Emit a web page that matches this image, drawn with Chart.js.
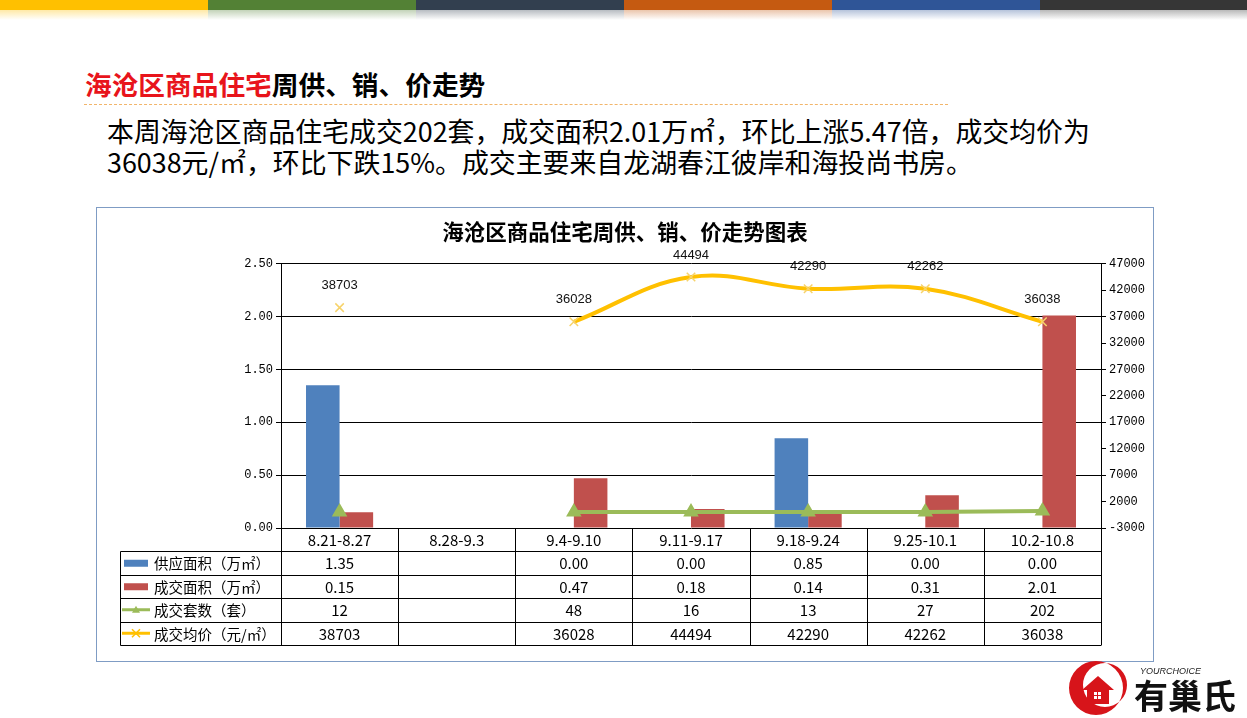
<!DOCTYPE html>
<html>
<head>
<meta charset="utf-8">
<script src="https://cdn.jsdelivr.net/npm/chart.js@4"></script>
<style>
  body { margin: 0; width: 1247px; height: 718px; background: #fff; position: relative; overflow: hidden;
         font-family: "Noto Sans CJK SC", sans-serif; }
  .bar { position: absolute; top: 0; height: 10px; width: 208px; }
  .fade { position: absolute; top: 10px; height: 10px; width: 208px; opacity: 0.35; }
  #head { position: absolute; left: 85px; top: 67px; font-size: 26.7px; font-weight: bold; line-height: 34px; color: #000; white-space: nowrap; }
  #head span { color: #e8141b; }
  #dash { position: absolute; left: 84px; top: 104px; width: 864px; border-top: 1px dashed #f2b56a; }
  #para { position: absolute; left: 107px; top: 115px; font-size: 26.9px; line-height: 31px; color: #000; white-space: nowrap; }
  #box { position: absolute; left: 96px; top: 207px; width: 1056px; height: 453px; border: 1px solid #7f9cc4; }
  #logo { position: absolute; left: 1062px; top: 658px; }
</style>
</head>
<body>
<div class="bar" style="left:0;background:#ffc000"></div>
<div class="bar" style="left:208px;background:#538135"></div>
<div class="bar" style="left:416px;background:#323f4f"></div>
<div class="bar" style="left:624px;background:#c55a11"></div>
<div class="bar" style="left:832px;background:#2f5597"></div>
<div class="bar" style="left:1040px;background:#363636"></div>
<div class="fade" style="left:0;background:linear-gradient(#ffc000,#fff)"></div>
<div class="fade" style="left:208px;background:linear-gradient(#538135,#fff)"></div>
<div class="fade" style="left:416px;background:linear-gradient(#323f4f,#fff)"></div>
<div class="fade" style="left:624px;background:linear-gradient(#c55a11,#fff)"></div>
<div class="fade" style="left:832px;background:linear-gradient(#2f5597,#fff)"></div>
<div class="fade" style="left:1040px;background:linear-gradient(#363636,#fff)"></div>

<div id="head"><span>海沧区商品住宅</span>周供、销、价走势</div>
<div id="dash"></div>
<div id="para">本周海沧区商品住宅成交202套，成交面积2.01万㎡，环比上涨5.47倍，成交均价为<br>36038元/㎡，环比下跌15%。成交主要来自龙湖春江彼岸和海投尚书房。</div>

<div id="box"><canvas id="chart" width="1056" height="453"></canvas></div>

<svg id="logo" width="185" height="60" viewBox="0 0 185 60">
  <path fill-rule="evenodd" fill="#d7141a"
        d="M34 3 A27 27 0 1 0 34 57 A27 27 0 1 0 34 3 Z M43 5 A22 22 0 1 1 43 49 A22 22 0 1 1 43 5 Z"/>
  <path d="M20 32 L36 18 L52 32 L47 32 L47 46 L25 46 L25 32 Z" fill="#d7141a"/>
  <rect x="32" y="34" width="7" height="7" fill="#fff"/>
  <line x1="35.5" y1="34" x2="35.5" y2="41" stroke="#d7141a" stroke-width="1"/>
  <line x1="32" y1="37.5" x2="39" y2="37.5" stroke="#d7141a" stroke-width="1"/>
  <text x="78" y="16" font-size="9" font-style="italic" font-family="Liberation Sans" fill="#222">YOURCHOICE</text>
  <text x="72" y="51" font-size="34" font-weight="bold" font-family="Noto Sans CJK SC" fill="#111">有巢氏</text>
</svg>

<script>
// 数据
const categories = ['8.21-8.27', '8.28-9.3', '9.4-9.10', '9.11-9.17', '9.18-9.24', '9.25-10.1', '10.2-10.8'];
const supplyArea = [1.35, null, 0.00, 0.00, 0.85, 0.00, 0.00];
const dealArea = [0.15, null, 0.47, 0.18, 0.14, 0.31, 2.01];
const dealUnits = [12, null, 48, 16, 13, 27, 202];
const avgPrice = [38703, null, 36028, 44494, 42290, 42262, 36038];
const seriesNames = ['供应面积（万㎡）', '成交面积（万㎡）', '成交套数（套）', '成交均价（元/㎡）'];
const leftAxis = [0, 2.5, 0.5];
const rightAxis = [-3000, 47000, 5000];

const monoFont = { family: '"Liberation Mono", monospace', size: 12 };

// 均价数据标签
const labelPlugin = {
    id: 'priceLabels',
    afterDatasetsDraw(chart) {
        const ctx = chart.ctx;
        const meta = chart.getDatasetMeta(3);
        ctx.save();
        ctx.font = '13px "Liberation Sans", sans-serif';
        ctx.fillStyle = '#111';
        ctx.textAlign = 'center';
        ctx.textBaseline = 'middle';
        meta.data.forEach(function(pt, i) {
            if (avgPrice[i] == null) return;
            ctx.fillText(String(avgPrice[i]), pt.x, pt.y - 22);
        });
        ctx.restore();
    }
};

// 数据表
const tablePlugin = {
    id: 'dataTable',
    afterDraw(chart) {
        const ctx = chart.ctx;
        const area = chart.chartArea;
        const n = categories.length;
        const colW = (area.right - area.left) / n;
        const tableLeft = 23.5;
        const top = area.bottom;
        const headH = 23;
        const rowH = 23.5;
        const bottom = top + headH + rowH * 4;
        const px = v => Math.round(v) + 0.5;

        ctx.save();
        ctx.strokeStyle = '#000';
        ctx.lineWidth = 1;
        ctx.beginPath();
        for (let i = 0; i <= n; i++) {
            const x = px(area.left + i * colW);
            ctx.moveTo(x, top);
            ctx.lineTo(x, bottom);
        }
        ctx.moveTo(tableLeft, px(top + headH));
        ctx.lineTo(tableLeft, px(bottom));
        for (let k = 0; k <= 4; k++) {
            const y = px(top + headH + k * rowH);
            ctx.moveTo(tableLeft, y);
            ctx.lineTo(px(area.right), y);
        }
        ctx.stroke();

        ctx.font = '15px "Noto Sans CJK SC", sans-serif';
        ctx.fillStyle = '#000';
        ctx.textAlign = 'center';
        ctx.textBaseline = 'middle';
        categories.forEach(function(c, i) {
            ctx.fillText(c, area.left + (i + 0.5) * colW, top + headH / 2 + 1);
        });

        const rows = [
            supplyArea.map(v => v == null ? '' : v.toFixed(2)),
            dealArea.map(v => v == null ? '' : v.toFixed(2)),
            dealUnits.map(v => v == null ? '' : String(v)),
            avgPrice.map(v => v == null ? '' : String(v))
        ];
        rows.forEach(function(r, k) {
            const cy = top + headH + k * rowH + rowH / 2 + 1;
            r.forEach(function(t, i) {
                ctx.fillText(t, area.left + (i + 0.5) * colW, cy);
            });
        });

        // 图例
        ctx.textAlign = 'left';
        ctx.font = '14.5px "Noto Sans CJK SC", sans-serif';
        const colors = ['#4f81bd', '#c0504d', '#9bbb59', '#ffc000'];
        seriesNames.forEach(function(name, k) {
            const cy = top + headH + k * rowH + rowH / 2;
            if (k < 2) {
                ctx.fillStyle = colors[k];
                ctx.fillRect(27, cy - 3, 24, 7);
            } else {
                ctx.strokeStyle = colors[k];
                ctx.lineWidth = 3;
                ctx.beginPath();
                ctx.moveTo(25, cy);
                ctx.lineTo(53, cy);
                ctx.stroke();
                ctx.lineWidth = 1.5;
                ctx.beginPath();
                if (k === 2) {
                    ctx.fillStyle = colors[k];
                    ctx.moveTo(39, cy - 4);
                    ctx.lineTo(43, cy + 3);
                    ctx.lineTo(35, cy + 3);
                    ctx.closePath();
                    ctx.fill();
                } else {
                    ctx.moveTo(35, cy - 4); ctx.lineTo(43, cy + 4);
                    ctx.moveTo(43, cy - 4); ctx.lineTo(35, cy + 4);
                    ctx.stroke();
                }
            }
            ctx.fillStyle = '#000';
            ctx.fillText(name, 57, cy + 1);
        });
        ctx.restore();
    }
};

new Chart(document.getElementById('chart').getContext('2d'), {
    data: {
        labels: categories,
        datasets: [
            { type: 'bar', label: seriesNames[0], data: supplyArea, backgroundColor: '#4f81bd', yAxisID: 'y', order: 1,
              categoryPercentage: 0.573, barPercentage: 1.0 },
            { type: 'bar', label: seriesNames[1], data: dealArea, backgroundColor: '#c0504d', yAxisID: 'y', order: 1,
              categoryPercentage: 0.573, barPercentage: 1.0 },
            { type: 'line', label: seriesNames[2], data: dealUnits, yAxisID: 'y1', order: 0,
              borderColor: '#9bbb59', borderWidth: 4, pointStyle: 'triangle', pointRadius: 5,
              pointBackgroundColor: '#9bbb59', pointBorderColor: '#9bbb59', spanGaps: false },
            { type: 'line', label: seriesNames[3], data: avgPrice, yAxisID: 'y1', order: 0,
              borderColor: '#ffc000', borderWidth: 4, tension: 0.4, pointStyle: 'crossRot', pointRadius: 6,
              pointBorderColor: '#f7d36b', pointBorderWidth: 1.5, spanGaps: false }
        ]
    },
    options: {
        responsive: false,
        animation: false,
        layout: { padding: 0 },
        plugins: {
            legend: { display: false },
            tooltip: { enabled: false },
            title: {
                display: true,
                text: '海沧区商品住宅周供、销、价走势图表',
                color: '#000',
                font: { family: '"Noto Sans CJK SC", sans-serif', size: 21.5, weight: 'bold' },
                padding: { top: 11, bottom: 19 }
            }
        },
        scales: {
            x: {
                grid: { display: false },
                border: { display: false },
                ticks: { display: false },
                afterFit(s) { s.height = 133; }
            },
            y: {
                position: 'left',
                min: leftAxis[0], max: leftAxis[1],
                ticks: { stepSize: leftAxis[2], color: '#000', font: monoFont, padding: 3,
                         callback: v => Number(v).toFixed(2) },
                grid: { color: '#000', tickLength: 5 },
                border: { color: '#000' },
                afterFit(s) { s.width = 184; }
            },
            y1: {
                position: 'right',
                min: rightAxis[0], max: rightAxis[1],
                ticks: { stepSize: rightAxis[2], color: '#000', font: monoFont, padding: 3,
                         callback: v => String(v) },
                grid: { drawOnChartArea: false, color: '#000', tickLength: 5 },
                border: { color: '#000' },
                afterFit(s) { s.width = 52; }
            }
        }
    },
    plugins: [labelPlugin, tablePlugin]
});
</script>
</body>
</html>
